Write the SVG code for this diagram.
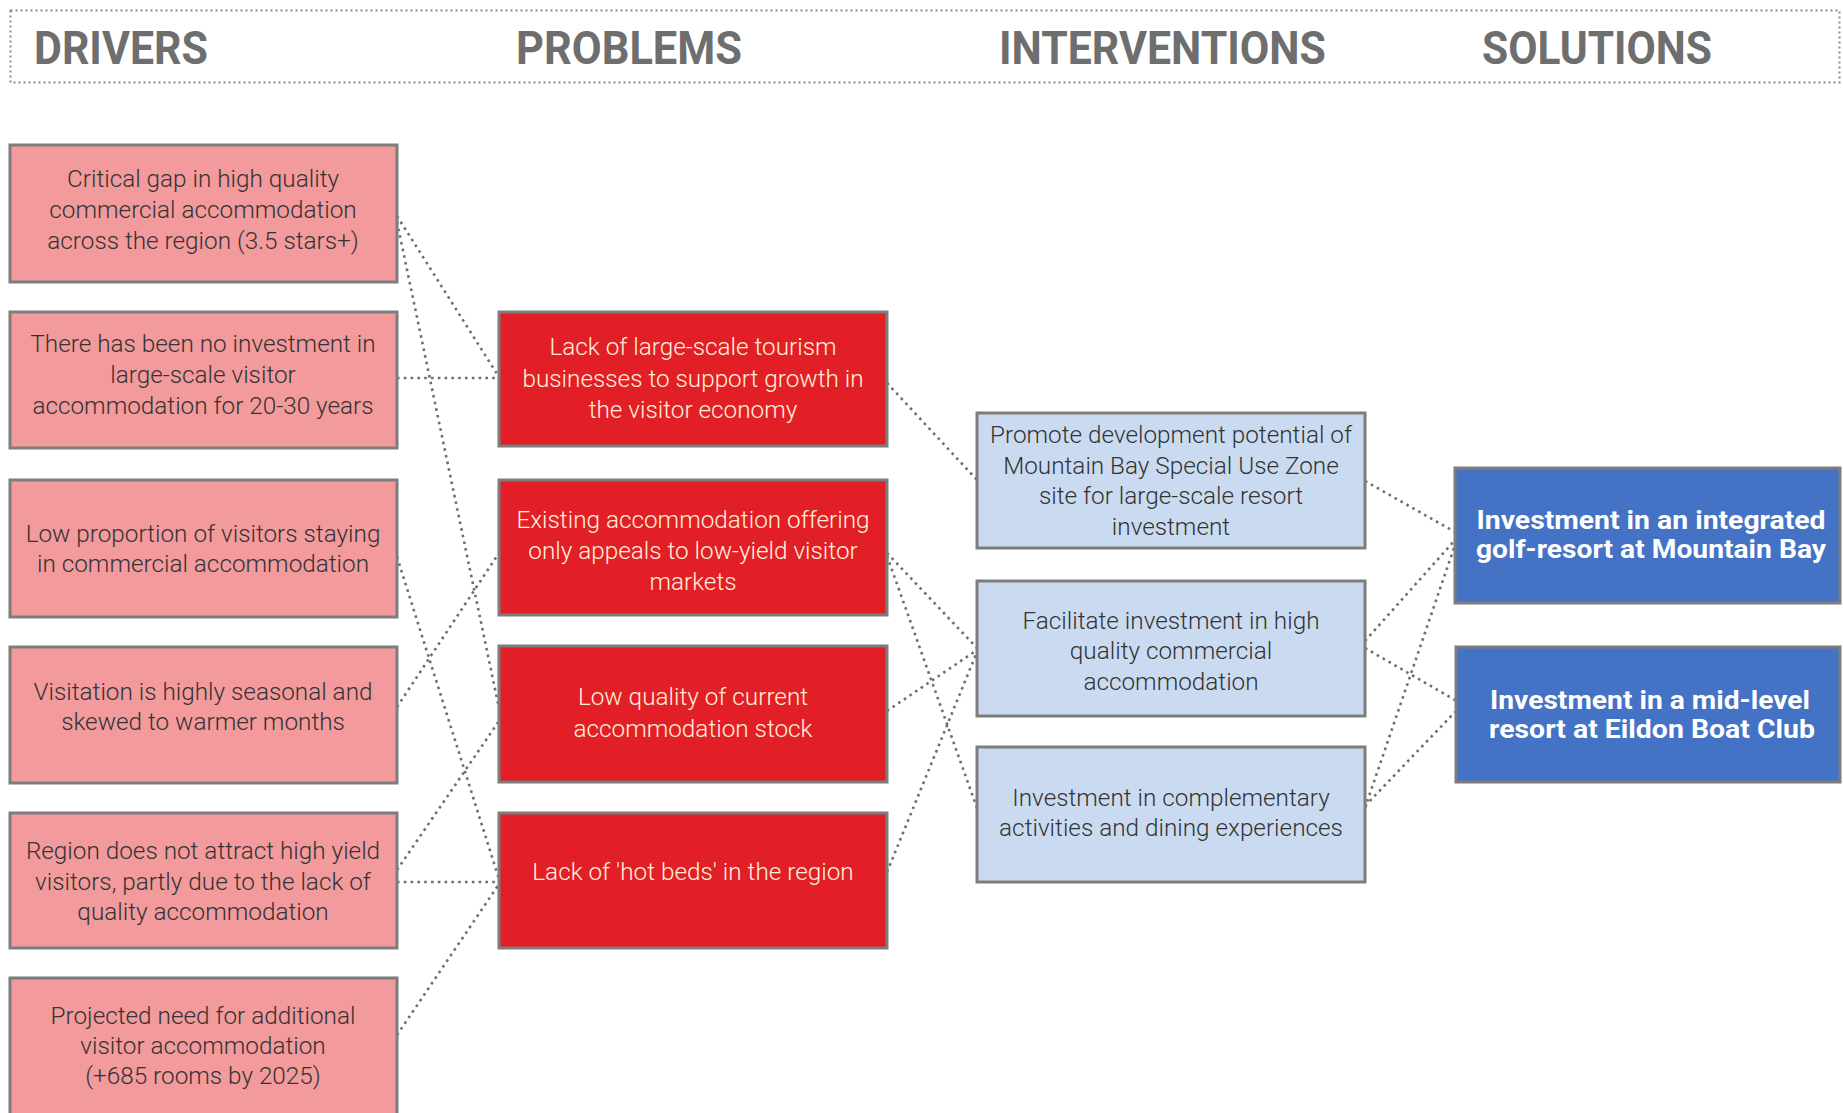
<svg xmlns="http://www.w3.org/2000/svg" width="1843" height="1113" viewBox="0 0 1843 1113">
<style>
.hdr{font-family:Roboto,"Liberation Sans",sans-serif;font-weight:700;font-size:46px;fill:#6e6e6e}
.box{stroke:#7d7d7d;stroke-width:3}
.drv{fill:#F39A9C}
.prb{fill:#E21F26}
.int{fill:#CADBF1}
.sol{fill:#4472C4}
.t{font-family:Roboto,"Liberation Sans",sans-serif;font-weight:300;font-size:24.3px;text-anchor:middle}
.td{fill:#333333}
.tp{fill:#FFF0DC}
.ti{fill:#333333}
.ts{font-family:Roboto,"Liberation Sans",sans-serif;font-weight:700;font-size:26px;text-anchor:middle;fill:#ffffff}
.con line{stroke:#6f6f6f;stroke-width:2.6;stroke-dasharray:2.6 4.2;fill:none}
</style>
<rect id="header" x="10.5" y="10.5" width="1829" height="72" fill="none" stroke="#8a8a8a" stroke-width="2" stroke-dasharray="2 3"/>
<g id="headers">
<text class="hdr" x="34" y="64" textLength="174" lengthAdjust="spacingAndGlyphs">DRIVERS</text>
<text class="hdr" x="516" y="64" textLength="226" lengthAdjust="spacingAndGlyphs">PROBLEMS</text>
<text class="hdr" x="999" y="64" textLength="327" lengthAdjust="spacingAndGlyphs">INTERVENTIONS</text>
<text class="hdr" x="1482" y="64" textLength="230" lengthAdjust="spacingAndGlyphs">SOLUTIONS</text>
</g>
<g id="connectors" class="con">
<line x1="397" y1="216" x2="499" y2="377"/>
<line x1="397" y1="222" x2="499" y2="708"/>
<line x1="397" y1="378" x2="499" y2="378"/>
<line x1="397" y1="557" x2="499" y2="879"/>
<line x1="397" y1="707" x2="499" y2="553"/>
<line x1="397" y1="870" x2="499" y2="721"/>
<line x1="397" y1="882" x2="499" y2="882"/>
<line x1="397" y1="1035" x2="499" y2="884"/>
<line x1="887" y1="383" x2="977" y2="480"/>
<line x1="887" y1="553" x2="977" y2="648"/>
<line x1="887" y1="556" x2="977" y2="808"/>
<line x1="887" y1="711" x2="977" y2="650"/>
<line x1="887" y1="872" x2="977" y2="652"/>
<line x1="1365" y1="481" x2="1455" y2="532"/>
<line x1="1365" y1="641" x2="1455" y2="540"/>
<line x1="1365" y1="648" x2="1455" y2="700"/>
<line x1="1365" y1="808" x2="1455" y2="545"/>
<line x1="1365" y1="806" x2="1455" y2="712"/>
</g>
<g id="d1"><rect class="box drv" x="10" y="145" width="387" height="137"/>
<text class="t td" x="203" y="187">Critical gap in high quality</text>
<text class="t td" x="203" y="217.5">commercial accommodation</text>
<text class="t td" x="203" y="248.5">across the region (3.5 stars+)</text></g>
<g id="d2"><rect class="box drv" x="10" y="312" width="387" height="136"/>
<text class="t td" x="203" y="352">There has been no investment in</text>
<text class="t td" x="203" y="382.5">large-scale visitor</text>
<text class="t td" x="203" y="414">accommodation for 20-30 years</text></g>
<g id="d3"><rect class="box drv" x="10" y="480" width="387" height="137"/>
<text class="t td" x="203" y="542">Low proportion of visitors staying</text>
<text class="t td" x="203" y="572">in commercial accommodation</text></g>
<g id="d4"><rect class="box drv" x="10" y="647" width="387" height="136"/>
<text class="t td" x="203" y="700">Visitation is highly seasonal and</text>
<text class="t td" x="203" y="730">skewed to warmer months</text></g>
<g id="d5"><rect class="box drv" x="10" y="813" width="387" height="135"/>
<text class="t td" x="203" y="858.5">Region does not attract high yield</text>
<text class="t td" x="203" y="890">visitors, partly due to the lack of</text>
<text class="t td" x="203" y="920">quality accommodation</text></g>
<g id="d6"><rect class="box drv" x="10" y="978" width="387" height="137"/>
<text class="t td" x="203" y="1023.5">Projected need for additional</text>
<text class="t td" x="203" y="1053.5">visitor accommodation</text>
<text class="t td" x="203" y="1083.5">(+685 rooms by 2025)</text></g>
<g id="p1"><rect class="box prb" x="499" y="312" width="388" height="134"/>
<text class="t tp" x="693" y="355">Lack of large-scale tourism</text>
<text class="t tp" x="693" y="386.5">businesses to support growth in</text>
<text class="t tp" x="693" y="418">the visitor economy</text></g>
<g id="p2"><rect class="box prb" x="499" y="480" width="388" height="135"/>
<text class="t tp" x="693" y="527.5">Existing accommodation offering</text>
<text class="t tp" x="693" y="558.5">only appeals to low-yield visitor</text>
<text class="t tp" x="693" y="589.5">markets</text></g>
<g id="p3"><rect class="box prb" x="499" y="646" width="388" height="136"/>
<text class="t tp" x="693" y="705">Low quality of current</text>
<text class="t tp" x="693" y="736.5">accommodation stock</text></g>
<g id="p4"><rect class="box prb" x="499" y="813" width="388" height="135"/>
<text class="t tp" x="693" y="880">Lack of 'hot beds' in the region</text></g>
<g id="i1"><rect class="box int" x="977" y="413" width="388" height="135"/>
<text class="t ti" x="1171" y="442.5">Promote development potential of</text>
<text class="t ti" x="1171" y="473.5">Mountain Bay Special Use Zone</text>
<text class="t ti" x="1171" y="504">site for large-scale resort</text>
<text class="t ti" x="1171" y="535">investment</text></g>
<g id="i2"><rect class="box int" x="977" y="581" width="388" height="135"/>
<text class="t ti" x="1171" y="628.5">Facilitate investment in high</text>
<text class="t ti" x="1171" y="658.5">quality commercial</text>
<text class="t ti" x="1171" y="689.5">accommodation</text></g>
<g id="i3"><rect class="box int" x="977" y="747" width="388" height="135"/>
<text class="t ti" x="1171" y="806">Investment in complementary</text>
<text class="t ti" x="1171" y="836">activities and dining experiences</text></g>
<g id="s1"><rect class="box sol" x="1455" y="468" width="385" height="135"/>
<text class="ts" x="1651" y="529" textLength="349" lengthAdjust="spacingAndGlyphs">Investment in an integrated</text>
<text class="ts" x="1651" y="558" textLength="350" lengthAdjust="spacingAndGlyphs">golf-resort at Mountain Bay</text></g>
<g id="s2"><rect class="box sol" x="1456" y="647" width="384" height="135"/>
<text class="ts" x="1650" y="709" textLength="320" lengthAdjust="spacingAndGlyphs">Investment in a mid-level</text>
<text class="ts" x="1652" y="738" textLength="326" lengthAdjust="spacingAndGlyphs">resort at Eildon Boat Club</text></g>
</svg>
